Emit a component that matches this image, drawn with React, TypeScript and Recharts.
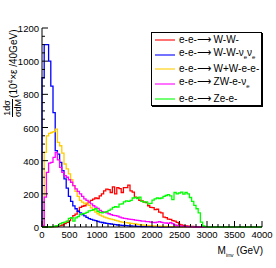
import React from 'react';
import { LineChart, Line, XAxis, YAxis, Legend } from 'recharts';

const FONT = '"Liberation Sans", Arial, Helvetica, sans-serif';

// histogram bin width (GeV); bins run 0..4000
const BIN_GEV = 40;

// bin contents, one value per 40 GeV bin (10 per row)
const wwVals = [
  0, 0, 0, 0, 1, 2, 3, 5, 8, 12,
  20, 28, 38, 55, 68, 78, 95, 118, 125, 128,
  140, 150, 160, 168, 175, 172, 188, 200, 218, 228,
  225, 208, 242, 200, 238, 232, 208, 238, 238, 252,
  218, 210, 180, 175, 160, 158, 150, 147, 128, 118,
  117, 105, 107, 90, 85, 60, 56, 48, 46, 38,
  36, 28, 16, 12, 8, 6, 5, 4, 3, 2,
  1, 0, 0, 0, 0, 0, 0, 0, 0, 0,
  0, 0, 0, 0, 0, 0, 0, 0, 0, 0,
  0, 0, 0, 0, 0, 0, 0, 0, 0, 0,
];

const wwvvVals = [
  900, 1100, 1100, 1000, 850, 690, 460, 440, 390, 340,
  290, 235, 185, 155, 127, 110, 95, 85, 75, 67,
  58, 50, 46, 42, 38, 34, 30, 27, 24, 22,
  20, 18, 16, 14, 12, 11, 10, 9, 8, 7,
  6, 5, 5, 4, 4, 3, 3, 2, 2, 2,
  1, 1, 1, 0, 0, 0, 0, 0, 0, 0,
  0, 0, 0, 0, 0, 0, 0, 0, 0, 0,
  0, 0, 0, 0, 0, 0, 0, 0, 0, 0,
  0, 0, 0, 0, 0, 0, 0, 0, 0, 0,
  0, 0, 0, 0, 0, 0, 0, 0, 0, 0,
];

const wweeVals = [
  0, 450, 550, 565, 570, 575, 590, 510, 490, 445,
  380, 350, 320, 285, 250, 215, 185, 160, 150, 140,
  145, 130, 115, 100, 90, 80, 72, 66, 60, 55,
  50, 47, 44, 40, 37, 33, 30, 28, 26, 24,
  22, 20, 18, 16, 14, 12, 11, 10, 9, 8,
  7, 6, 5, 5, 4, 3, 3, 2, 2, 2,
  1, 1, 1, 0, 0, 0, 0, 0, 0, 0,
  0, 0, 0, 0, 0, 0, 0, 0, 0, 0,
  0, 0, 0, 0, 0, 0, 0, 0, 0, 0,
  0, 0, 0, 0, 0, 0, 0, 0, 0, 0,
];

const zwevVals = [
  10, 180, 330, 385, 390, 420, 450, 405, 360, 330,
  310, 300, 285, 270, 250, 230, 215, 200, 185, 170,
  160, 150, 140, 128, 120, 112, 100, 92, 88, 85,
  80, 75, 70, 68, 65, 60, 55, 52, 50, 48,
  46, 45, 42, 40, 38, 36, 35, 33, 32, 30,
  28, 27, 30, 32, 28, 25, 24, 22, 26, 20,
  12, 8, 6, 5, 4, 3, 2, 1, 1, 0,
  0, 0, 0, 0, 0, 0, 0, 0, 0, 0,
  0, 0, 0, 0, 0, 0, 0, 0, 0, 0,
  0, 0, 0, 0, 0, 0, 0, 0, 0, 0,
];

const zeeVals = [
  0, 0, 0, 0, 2, 3, 6, 8, 20, 26,
  30, 36, 52, 56, 35, 55, 62, 75, 80, 82,
  88, 97, 100, 105, 110, 95, 88, 85, 90, 92,
  100, 108, 118, 122, 120, 138, 140, 152, 158, 155,
  160, 175, 178, 172, 180, 155, 150, 152, 140, 142,
  162, 170, 175, 172, 175, 185, 190, 195, 188, 165,
  208, 200, 205, 210, 198, 208, 200, 178, 155, 130,
  110, 85, 30, 6, 2, 0, 0, 0, 0, 0,
  0, 0, 0, 0, 0, 0, 0, 0, 0, 0,
  0, 0, 0, 0, 0, 0, 0, 0, 0, 0,
];

const X_MAJOR = [0, 500, 1000, 1500, 2000, 2500, 3000, 3500, 4000];
const Y_MAJOR = [0, 200, 400, 600, 800, 1000, 1200];
const X_MINOR = 100;
const Y_MINOR = 50;

const xTicks = Array.from({ length: 4000 / X_MINOR + 1 }, (_, i) => i * X_MINOR);
const yTicks = Array.from({ length: 1200 / Y_MINOR + 1 }, (_, i) => i * Y_MINOR);

const SERIES = [
  { key: 'ww', vals: wwVals, color: '#ff0000', label: <>e-e-⟶ W-W-</> },
  { key: 'wwvv', vals: wwvvVals, color: '#0000ff', label: <>e-e-⟶ W-W-ν<sub style={{ fontSize: 6 }}>e</sub>ν<sub style={{ fontSize: 6 }}>e</sub></> },
  { key: 'wwee', vals: wweeVals, color: '#ffcc00', label: <>e-e-⟶ W+W-e-e-</> },
  { key: 'zwev', vals: zwevVals, color: '#ff00ff', label: <>e-e-⟶ ZW-e-ν<sub style={{ fontSize: 6 }}>e</sub></> },
  { key: 'zee', vals: zeeVals, color: '#00ff00', label: <>e-e-⟶ Ze-e-</> },
];

const zeroRow = (m: number) => {
  const r: any = { m };
  SERIES.forEach((s) => (r[s.key] = 0));
  return r;
};

const data = [
  zeroRow(0),
  ...wwVals.map((_, i) => {
    const r: any = { m: i * BIN_GEV };
    SERIES.forEach((s) => (r[s.key] = s.vals[i]));
    return r;
  }),
  zeroRow(wwVals.length * BIN_GEV),
];

const MAJ = 6;
const MIN = 3;

const BottomTick = ({ x, y, payload }: any) => {
  const major = X_MAJOR.includes(payload.value);
  return (
    <g>
      <line x1={x} y1={y} x2={x} y2={y - (major ? MAJ : MIN)} stroke="#000" />
      {major && (
        <text x={x} y={y + 10.5} textAnchor="middle" fontSize={9.5} fontFamily={FONT} fill="#000">
          {payload.value}
        </text>
      )}
    </g>
  );
};

const TopTick = ({ x, y, payload }: any) => {
  const major = X_MAJOR.includes(payload.value);
  return <line x1={x} y1={y} x2={x} y2={y + (major ? MAJ : MIN)} stroke="#000" />;
};

const LeftTick = ({ x, y, payload }: any) => {
  const major = Y_MAJOR.includes(payload.value);
  return (
    <g>
      <line x1={x} y1={y} x2={x + (major ? MAJ : MIN)} y2={y} stroke="#000" />
      {major && (
        <text x={x - 3} y={y + 4} textAnchor="end" fontSize={9.5} fontFamily={FONT} fill="#000">
          {payload.value}
        </text>
      )}
    </g>
  );
};

const RightTick = ({ x, y, payload }: any) => {
  const major = Y_MAJOR.includes(payload.value);
  return <line x1={x} y1={y} x2={x - (major ? MAJ : MIN)} y2={y} stroke="#000" />;
};

const LegendBox = () => (
  <div
    style={{
      boxSizing: 'border-box',
      width: 111,
      height: 74,
      border: '1px solid #000',
      boxShadow: '1px 1px 0 #000',
      background: '#fff',
      fontFamily: FONT,
      color: '#000',
    }}
  >
    {SERIES.map((s) => (
      <div key={s.key} style={{ display: 'flex', alignItems: 'center', height: 14.6 }}>
        <span style={{ width: 20, height: 2, background: s.color, opacity: 0.55, marginLeft: 3, marginRight: 4 }} />
        <span style={{ fontSize: 10, whiteSpace: 'nowrap', lineHeight: '12px' }}>{s.label}</span>
      </div>
    ))}
  </div>
);

export default function App() {
  return (
    <div style={{ position: 'absolute', left: 0, top: 0, width: 276, height: 268, background: '#fff' }}>
      <LineChart width={276} height={268} data={data} margin={{ top: 28, right: 14, bottom: 12, left: 0 }}>
        <XAxis
          dataKey="m"
          type="number"
          domain={[0, 4000]}
          ticks={xTicks}
          interval={0}
          height={29}
          tickSize={0}
          tickMargin={0}
          tick={BottomTick}
          axisLine={{ stroke: '#000' }}
        />
        <XAxis
          xAxisId="top"
          orientation="top"
          dataKey="m"
          type="number"
          domain={[0, 4000]}
          ticks={xTicks}
          interval={0}
          height={0}
          tickSize={0}
          tickMargin={0}
          tick={TopTick}
          axisLine={{ stroke: '#000' }}
        />
        <YAxis
          type="number"
          domain={[0, 1200]}
          ticks={yTicks}
          interval={0}
          width={42}
          tickSize={0}
          tickMargin={0}
          tick={LeftTick}
          axisLine={{ stroke: '#000' }}
        />
        <YAxis
          yAxisId="right"
          orientation="right"
          type="number"
          domain={[0, 1200]}
          ticks={yTicks}
          interval={0}
          width={0}
          tickSize={0}
          tickMargin={0}
          tick={RightTick}
          axisLine={{ stroke: '#000' }}
        />
        <Legend
          layout="vertical"
          align="center"
          verticalAlign="middle"
          wrapperStyle={{ left: 151, top: 32, width: 111, height: 74 }}
          content={() => <LegendBox />}
        />
        {SERIES.map((s) => (
          <Line
            key={s.key}
            dataKey={s.key}
            name={s.key}
            type="stepAfter"
            stroke={s.color}
            strokeWidth={1.3}
            dot={false}
            activeDot={false}
            isAnimationActive={false}
          />
        ))}
      </LineChart>
      <div
        style={{
          position: 'absolute',
          left: -33,
          top: 60,
          width: 92,
          height: 22,
          transform: 'rotate(-90deg)',
          display: 'flex',
          alignItems: 'center',
          fontFamily: FONT,
          color: '#000',
          whiteSpace: 'nowrap',
        }}
      >
        <span style={{ display: 'inline-flex', flexDirection: 'column', alignItems: 'center', fontSize: 9, lineHeight: '9px' }}>
          <span>1dσ</span>
          <span style={{ borderTop: '1px solid #000', paddingTop: 1 }}>σdM</span>
        </span>
        <span style={{ fontSize: 10, marginLeft: 1 }}>
          (10<sup style={{ fontSize: 6.5 }}>4</sup>×ε /40GeV)
        </span>
      </div>
      <div style={{ position: 'absolute', right: 13, top: 245, fontSize: 10, fontFamily: FONT, color: '#000', whiteSpace: 'nowrap' }}>
        M<sub style={{ fontSize: 6 }}>inv</sub> (GeV)
      </div>
    </div>
  );
}
